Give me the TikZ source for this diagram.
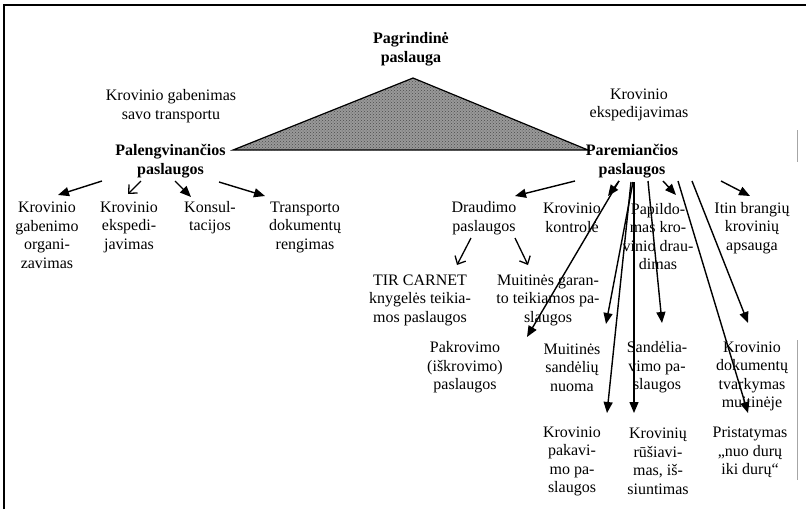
\documentclass[tikz,border=0pt]{standalone}
\usepackage{fontspec}
\setmainfont{Liberation Serif}
\usetikzlibrary{arrows.meta,patterns}
\tikzset{
  txt/.style={align=center, font=\fontsize{16}{18.5}\selectfont, inner sep=0pt},
  btxt/.style={txt, font=\fontsize{16}{18.5}\selectfont\bfseries},
  arr/.style={-{Triangle[length=11pt,width=9pt]}, line width=1.4pt},
  oarr/.style={-{Straight Barb[length=6.5pt,width=12pt]}, line width=1.3pt},
  frame/.style={line width=1.3pt},
}
\begin{document}
\begin{tikzpicture}[x=1pt,y=-1pt]
\useasboundingbox (0,0) rectangle (806,509);
% frame
\draw[frame] (4,509) -- (4,5) -- (806,5);
\draw[gray!70, line width=0.8pt] (797,130) -- (797,162);
\draw[gray!70, line width=0.8pt] (797,340) -- (797,480);
% triangle
\fill[black!40] (413,78) -- (233,150) -- (588,150) -- cycle;
\fill[pattern=crosshatch dots, pattern color=black!70] (413,78) -- (233,150) -- (588,150) -- cycle;
\draw[line width=1.2pt] (413,78) -- (233,150) -- (588,150) -- cycle;

% top labels
\node[btxt] (pagr) at (411,49) {Pagrindinė\\paslauga};
\node[txt] (kgst) at (171,106) {Krovinio gabenimas\\savo transportu};
\node[txt] (kexp) at (639,105) {Krovinio\\ekspedijavimas};
\node[btxt] (pal) at (170.5,161) {Palengvinančios\\paslaugos};
\node[btxt] (par) at (632,161) {Paremiančios\\paslaugos};

% left children
\node[txt] (c1) at (47,235.5) {Krovinio\\gabenimo\\organi-\\zavimas};
\node[txt] (c2) at (129,227) {Krovinio\\ekspedi-\\javimas};
\node[txt] (c3) at (210,217.5) {Konsul-\\tacijos};
\node[txt] (c4) at (305,227) {Transporto\\dokumentų\\rengimas};

% right children
\node[txt] (draud) at (484,218) {Draudimo\\paslaugos};
\node[txt] (kontr) at (572,218) {Krovinio\\kontrolė};
\node[txt] (papild) at (658,236.5) {Papildo-\\mas kro-\\vinio drau-\\dimas};
\node[txt] (itin) at (752,228) {Itin brangių\\krovinių\\apsauga};
\node[txt] (tir) at (420,300) {TIR CARNET\\knygelės teikia-\\mos paslaugos};
\node[txt] (muitg) at (548,300) {Muitinės garan-\\to teikiamos pa-\\slaugos};
\node[txt] (pakr) at (465,367.5) {Pakrovimo\\(iškrovimo)\\paslaugos};
\node[txt] (muits) at (572,367.5) {Muitinės\\sandėlių\\nuoma};
\node[txt] (sand) at (657,367.5) {Sandėlia-\\vimo pa-\\slaugos};
\node[txt] (kdok) at (752,376.5) {Krovinio\\dokumentų\\tvarkymas\\muitinėje};
\node[txt] (kpak) at (572,461.5) {Krovinio\\pakavi-\\mo pa-\\slaugos};
\node[txt] (krus) at (658,461.5) {Krovinių\\rūšiavi-\\mas, iš-\\siuntimas};
\node[txt] (prist) at (750,452.5) {Pristatymas\\„nuo durų\\iki durų“};

% left arrows
\draw[arr]  ([shift={(-68.5,20)}]pal.center) -- ([shift={(11,-40.5)}]c1.center);
\draw[oarr] ([shift={(-29.5,20)}]pal.center) -- ([shift={(-1,-33)}]c2.center);
\draw[arr]  ([shift={(4.5,20)}]pal.center) -- ([shift={(-19,-20.5)}]c3.center);
\draw[arr]  ([shift={(48.5,21)}]pal.center) -- ([shift={(-40,-31)}]c4.center);

% right arrows
\draw[arr] ([shift={(-57,20)}]par.center) -- ([shift={(31,-22)}]draud.center);
\draw[arr] ([shift={(-13,20)}]par.center) -- ([shift={(36,-22)}]kontr.center);
\draw[arr] ([shift={(-13,20)}]par.center) -- ([shift={(62,-30.5)}]pakr.center);
\draw[arr] ([shift={(1,21)}]par.center) -- ([shift={(34,-43.5)}]muits.center);
\draw[arr] ([shift={(-1,21)}]par.center) -- ([shift={(35,-48.5)}]kpak.center);
\draw[arr] ([shift={(2,21)}]par.center) -- ([shift={(-24,-48.5)}]krus.center);
\draw[arr] ([shift={(16,20)}]par.center) -- ([shift={(5,-44.5)}]sand.center);
\draw[arr] ([shift={(31,20)}]par.center) -- ([shift={(18,-41.5)}]papild.center);
\draw[arr] ([shift={(46,20)}]par.center) -- ([shift={(-2,-39.5)}]prist.center);
\draw[arr] ([shift={(60,20)}]par.center) -- ([shift={(-4,-53.5)}]kdok.center);
\draw[arr] ([shift={(89,20)}]par.center) -- ([shift={(-2,-32)}]itin.center);

% Draudimo arrows
\draw[oarr] ([shift={(-13,20)}]draud.center) -- ([shift={(37,-35)}]tir.center);
\draw[oarr] ([shift={(31,20)}]draud.center) -- ([shift={(-20,-35)}]muitg.center);
\end{tikzpicture}
\end{document}
